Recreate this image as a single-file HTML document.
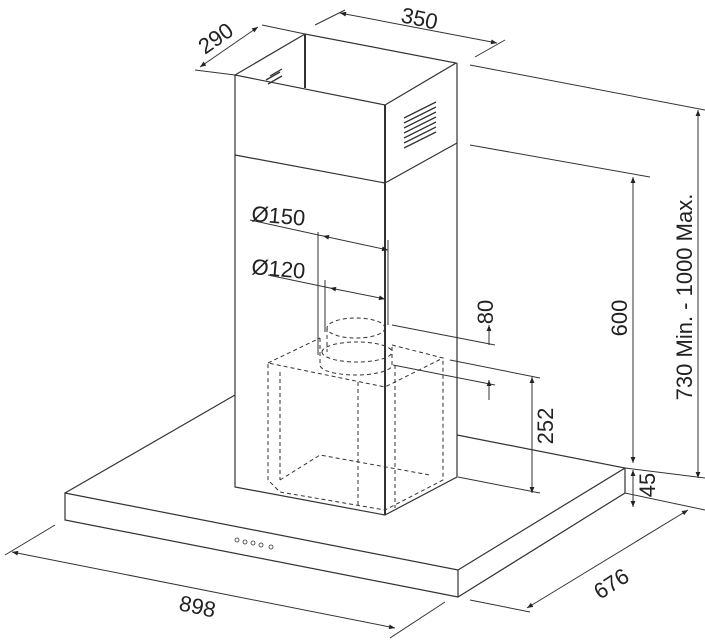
<!DOCTYPE html>
<html><head><meta charset="utf-8"><style>html,body{margin:0;padding:0;background:#fff}svg{display:block}</style></head><body>
<svg width="705" height="640" viewBox="0 0 705 640" xmlns="http://www.w3.org/2000/svg" font-family="Liberation Sans, sans-serif" fill="none" stroke="#333" stroke-width="1.2">
<defs>
<marker id="a" viewBox="0 0 10 10" refX="10" refY="5" markerWidth="9" markerHeight="6" orient="auto-start-reverse"><path d="M0,1 L10,5 L0,9z" fill="#222" stroke="none"/></marker>
</defs>
<path d="M235,75 L305,34 L456,63 L385,105 Z"/>
<path d="M305,34 V88" stroke-width="2"/>
<path d="M235,75 V487 L385,515 L457,477 V63"/>
<path d="M385,105 V515" stroke-width="2"/>
<path d="M235,155 L385,183 L457,143"/>
<g stroke-width="1.3">
<path d="M404,118 l32,-16 M404,123 l32,-16 M404,128 l32,-16 M404,133 l32,-16 M404,138 l32,-16 M404,143 l32,-16 M404,148 l32,-16"/>
<path d="M266,80 l14,-8 M268,84 l14,-8 M270,76 l12,-7"/>
</g>
<path d="M65,493 L235,395 M457,435 L625,468 L458,570 L65,493 V520 L458,597 V570 M458,597 L625,493 V468"/>
<g stroke-width="0.8"><circle cx="237" cy="540" r="2"/><circle cx="245" cy="542" r="2"/><circle cx="253" cy="543" r="2"/><circle cx="261" cy="545" r="2"/><circle cx="271" cy="547" r="2"/></g>
<g stroke-dasharray="4,3" stroke-width="1">
<path d="M268,363 L320,338 M392,345 L443,358 L385,387 L268,363 V480 L280,492 L385,510 L443,480 V358"/>
<path d="M280,372 V480 M385,387 V510 M358,382 V505 M395,365 V508"/>
<path d="M280,480 L320,455 L430,475"/>
<ellipse cx="356" cy="328" rx="29" ry="10"/>
<path d="M327,328 V352 M385,328 V352"/>
<path d="M322,352 a35,10 0 0 0 70,0 M322,352 a35,10 0 0 1 70,0"/>
<path d="M320,338 V365 a36,10 0 0 0 72,0 V345"/>
</g>
<path d="M318,232 V355 M325,280 V332 M388,240 V325" stroke-width="1"/>
<path d="M250,220 L323,236" stroke-width="1"/>
<path d="M323,236 L388,250" marker-start="url(#a)" marker-end="url(#a)" stroke-width="1"/>
<path d="M268,275 L330,288" stroke-width="1"/>
<path d="M330,288 L385,299" marker-start="url(#a)" marker-end="url(#a)" stroke-width="1"/>
<g fill="#222" stroke="none" font-size="22">
<text x="251" y="221" transform="rotate(5 251 221)">Ø150</text>
<text x="251" y="274" transform="rotate(5 251 274)">Ø120</text>
</g>
<path d="M195,70 L235,75 M262,25 L305,34 M315,25 L345,10 M475,57 L505,40" stroke-width="1"/>
<path d="M200,67 L258,27" marker-start="url(#a)" marker-end="url(#a)" stroke-width="1"/>
<path d="M340,13 L497,43" marker-start="url(#a)" marker-end="url(#a)" stroke-width="1"/>
<g fill="#222" stroke="none" font-size="22">
<text x="205" y="55" transform="rotate(-35 205 55)">290</text>
<text x="400" y="22" transform="rotate(12 400 22)">350</text>
</g>
<path d="M470,65 L705,110 M470,145 L650,177 M392,325 L495,345 M450,360 L540,378 M393,365 L495,385 M458,477 L540,493 M625,468 L705,478 M625,493 L705,510" stroke-width="1"/>
<path d="M698,110 V478" marker-start="url(#a)" marker-end="url(#a)" stroke-width="1"/>
<path d="M633,177 V463" marker-start="url(#a)" marker-end="url(#a)" stroke-width="1"/>
<path d="M633,470 V507" marker-start="url(#a)" marker-end="url(#a)" stroke-width="1"/>
<path d="M532,377 V493" marker-start="url(#a)" marker-end="url(#a)" stroke-width="1"/>
<path d="M489,325 V345" marker-start="url(#a)" stroke-width="1"/>
<path d="M489,380 V400" marker-start="url(#a)" stroke-width="1"/>
<g fill="#222" stroke="none" font-size="22" text-anchor="middle">
<text x="0" y="0" transform="translate(692,297) rotate(-90)">730 Min. - 1000 Max.</text>
<text x="0" y="0" transform="translate(627,318) rotate(-90)">600</text>
<text x="0" y="0" transform="translate(655,485) rotate(-90)">45</text>
<text x="0" y="0" transform="translate(553,426) rotate(-90)">252</text>
<text x="0" y="0" transform="translate(493,312) rotate(-90)">80</text>
</g>
<path d="M5,555 L55,525 M390,638 L445,602 M470,600 L530,612" stroke-width="1"/>
<path d="M12,552 L395,628" marker-start="url(#a)" marker-end="url(#a)" stroke-width="1"/>
<path d="M527,608 L688,510" marker-start="url(#a)" marker-end="url(#a)" stroke-width="1"/>
<g fill="#222" stroke="none" font-size="22">
<text x="178" y="610" transform="rotate(12 178 610)">898</text>
<text x="600" y="600" transform="rotate(-33 600 600)">676</text>
</g>
</svg>
</body></html>
